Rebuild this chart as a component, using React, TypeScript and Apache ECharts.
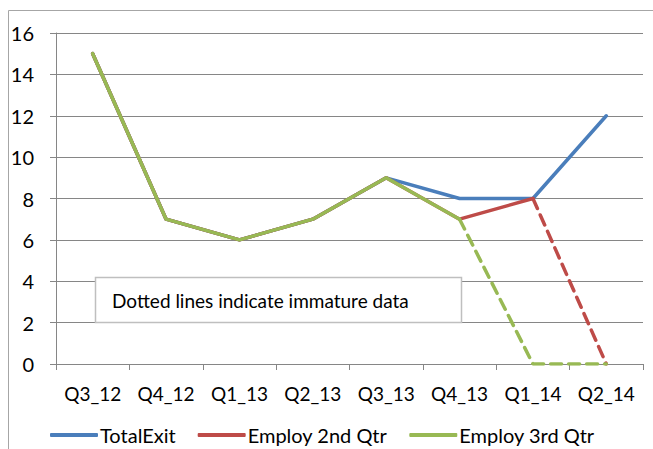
import React, { useEffect, useRef } from "react";
import * as echarts from "echarts";

const categories = ["Q3_12", "Q4_12", "Q1_13", "Q2_13", "Q3_13", "Q4_13", "Q1_14", "Q2_14"];
const totalExit = [15, 7, 6, 7, 9, 8, 8, 12];
const employ2Solid = [15, 7, 6, 7, 9, 7, 8, null];
const employ2Dashed = [null, null, null, null, null, null, 8, 0];
const employ3Solid = [15, 7, 6, 7, 9, 7, null, null];
const employ3Dashed = [null, null, null, null, null, 7, 0, 0];
const yTicks = { min: 0, max: 16, interval: 2 };
const note = "Dotted lines indicate immature data";

const BLUE = "#4A7EBB";
const RED = "#BE4B48";
const GREEN = "#98B954";
const FONT = "Lato, 'Open Sans', sans-serif";

export default function App() {
  const ref = useRef<HTMLDivElement>(null);
  useEffect(() => {
    const chart = echarts.init(ref.current!, null, { renderer: "svg" });
    const lw = 3.5;
    chart.setOption({
      animation: false,
      backgroundColor: "#ffffff",
      grid: { left: 56, right: 10, top: 33, bottom: 85 },
      xAxis: {
        type: "category",
        data: categories,
        boundaryGap: true,
        axisLine: { lineStyle: { color: "#868686", width: 1 } },
        axisTick: { show: true, length: 6, interval: 0, lineStyle: { color: "#868686" }, alignWithLabel: false },
        axisLabel: { color: "#000", fontFamily: FONT, fontSize: 19, margin: 20, interval: 0, hideOverlap: false },
        splitLine: { show: false },
      },
      yAxis: {
        type: "value",
        min: yTicks.min,
        max: yTicks.max,
        interval: yTicks.interval,
        axisLine: { show: true, lineStyle: { color: "#868686", width: 1 } },
        axisTick: { show: true, length: 6, lineStyle: { color: "#868686" } },
        axisLabel: { color: "#000", fontFamily: FONT, fontSize: 20, margin: 22 },
        splitLine: { show: true, lineStyle: { color: "#868686", width: 1 } },
      },
      legend: {
        bottom: -1,
        left: 45,
        itemWidth: 48,
        itemHeight: 4,
        itemGap: 22,
        icon: "roundRect",
        textStyle: { color: "#000", fontFamily: FONT, fontSize: 20, padding: [0, 0, 0, -3] },
        data: ["TotalExit", "Employ 2nd Qtr", "Employ 3rd Qtr"],
      },
      series: [
        {
          name: "TotalExit",
          type: "line",
          data: totalExit,
          symbol: "none",
          color: BLUE,
          lineStyle: { color: BLUE, width: lw, cap: "round", join: "round" },
        },
        {
          name: "Employ 2nd Qtr",
          type: "line",
          data: employ2Solid,
          symbol: "none",
          color: RED,
          lineStyle: { color: RED, width: lw, cap: "round", join: "round" },
        },
        {
          name: "Employ 2nd Qtr dashed",
          type: "line",
          data: employ2Dashed,
          symbol: "none",
          color: RED,
          lineStyle: { color: RED, width: lw, type: [11, 7], cap: "round" },
        },
        {
          name: "Employ 3rd Qtr",
          type: "line",
          data: employ3Solid,
          symbol: "none",
          color: GREEN,
          lineStyle: { color: GREEN, width: lw, cap: "round", join: "round" },
        },
        {
          name: "Employ 3rd Qtr dashed",
          type: "line",
          data: employ3Dashed,
          symbol: "none",
          color: GREEN,
          lineStyle: { color: GREEN, width: lw, type: [11, 7], cap: "round" },
        },
      ],
      graphic: [
        {
          type: "rect",
          shape: { x: 8.5, y: 10.5, width: 700, height: 500 },
          style: { fill: "none", stroke: "#A6A6A6", lineWidth: 1 },
          silent: true,
        },
        {
          type: "rect",
          shape: { x: 95.5, y: 277.5, width: 366, height: 45 },
          style: { fill: "#ffffff", stroke: "#BFBFBF", lineWidth: 1.5 },
          z: 100,
        },
        {
          type: "text",
          x: 112,
          y: 300,
          style: {
            text: note,
            fill: "#000",
            fontFamily: FONT,
            fontSize: 19,
            verticalAlign: "middle",
          },
          z: 101,
        },
      ],
    });
    return () => chart.dispose();
  }, []);
  return (
    <div
      ref={ref}
      style={{ position: "fixed", left: 0, top: 0, width: 653, height: 449 }}
    />
  );
}
